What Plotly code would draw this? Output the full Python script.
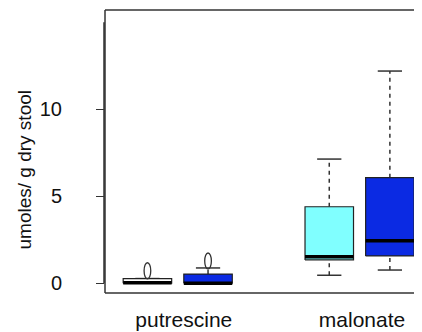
import plotly.graph_objects as go

# ---- data ----
categories = ["putrescine", "malonate"]
box_positions = [1, 2, 4, 5]
box_fill = ["#FFFFFF", "#0B2AE3", "#80FFFF", "#0B2AE3"]
q1 = [0.0, 0.0, 1.34, 1.57]
medians = [0.03, 0.0, 1.53, 2.45]
q3 = [0.27, 0.53, 4.40, 6.07]
whisker_low = [0.0, 0.0, 0.46, 0.76]
whisker_high = [0.27, 0.88, 7.14, 12.20]
outliers = [[0.72], [1.28], [], []]
y_ticks = [0, 5, 10]
y_title = "umoles/ g dry stool"

# ---- style / layout constants ----
label_positions = [1.6, 4.54]
box_w = 0.8
cap_w = 0.4
edge = "#222222"
font_family = "Liberation Sans, Arial, Helvetica, sans-serif"

fig = go.Figure()

for i, x in enumerate(box_positions):
    h = box_w / 2
    # lower whisker (dashed) and cap
    if whisker_low[i] < q1[i]:
        fig.add_trace(go.Scatter(x=[x, x], y=[whisker_low[i], q1[i]], mode="lines",
                                 line=dict(color="#333333", width=1.5, dash="4px,4px"),
                                 hoverinfo="skip", showlegend=False))
    fig.add_trace(go.Scatter(x=[x - cap_w / 2, x + cap_w / 2], y=[whisker_low[i]] * 2, mode="lines",
                             line=dict(color="#333333", width=1.5), hoverinfo="skip", showlegend=False))
    # upper whisker (dashed) and cap
    if whisker_high[i] > q3[i]:
        fig.add_trace(go.Scatter(x=[x, x], y=[q3[i], whisker_high[i]], mode="lines",
                                 line=dict(color="#333333", width=1.5, dash="4px,4px"),
                                 hoverinfo="skip", showlegend=False))
    fig.add_trace(go.Scatter(x=[x - cap_w / 2, x + cap_w / 2], y=[whisker_high[i]] * 2, mode="lines",
                             line=dict(color="#333333", width=1.5), hoverinfo="skip", showlegend=False))
    # box
    fig.add_trace(go.Scatter(x=[x - h, x + h, x + h, x - h, x - h],
                             y=[q1[i], q1[i], q3[i], q3[i], q1[i]],
                             mode="lines", fill="toself", fillcolor=box_fill[i],
                             line=dict(color=edge, width=1.2), hoverinfo="skip", showlegend=False))
    # median
    fig.add_trace(go.Scatter(x=[x - h, x + h], y=[medians[i]] * 2, mode="lines",
                             line=dict(color="#000000", width=3.5), hoverinfo="skip", showlegend=False))

# outliers drawn as open ellipses on the data axes
shapes = []
rx, ry = 0.055, 0.46
for i, x in enumerate(box_positions):
    for v in outliers[i]:
        shapes.append(dict(type="circle", xref="x", yref="y",
                           x0=x - rx, x1=x + rx, y0=v - ry, y1=v + ry,
                           line=dict(color="#333333", width=1.3)))

# frame: top, bottom, left (right side is cropped in the reference)
frame = dict(color="#333333", width=1.5)
shapes += [
    dict(type="line", xref="paper", yref="paper", x0=0, x1=1, y0=1, y1=1, line=frame),
    dict(type="line", xref="paper", yref="paper", x0=0, x1=1, y0=0, y1=0, line=frame),
    dict(type="line", xref="paper", yref="paper", x0=0, x1=0, y0=0, y1=1, line=frame),
    dict(type="line", xref="paper", yref="y", x0=-0.003, x1=-0.003, y0=0, y1=15,
         line=dict(color="#333333", width=1.6)),
]

# the page body has an 8px default margin, so the figure is sized to fit inside it
fig.update_layout(
    width=414, height=324,
    margin=dict(l=97, r=0, t=2, b=39),
    paper_bgcolor="white", plot_bgcolor="white",
    font=dict(family=font_family, color="#111111"),
    shapes=shapes,
    showlegend=False,
    xaxis=dict(range=[0.3, 5.53], showgrid=False, zeroline=False, showline=False,
               ticks="", tickvals=label_positions, ticktext=categories,
               tickfont=dict(size=21), ticklabelstandoff=12, automargin=False),
    yaxis=dict(range=[-0.56, 15.71], showgrid=False, zeroline=False, showline=False,
               ticks="outside", ticklen=8, tickwidth=1.3, tickcolor="#333333",
               tickvals=y_ticks, ticktext=[str(t) for t in y_ticks],
               tickfont=dict(size=20), ticklabelstandoff=30, automargin=False),
    annotations=[dict(text=y_title, xref="paper", yref="paper", x=-0.2555, y=0.433,
                      textangle=-90, showarrow=False, font=dict(size=19),
                      xanchor="center", yanchor="middle")],
)

fig.write_html("out.html")
